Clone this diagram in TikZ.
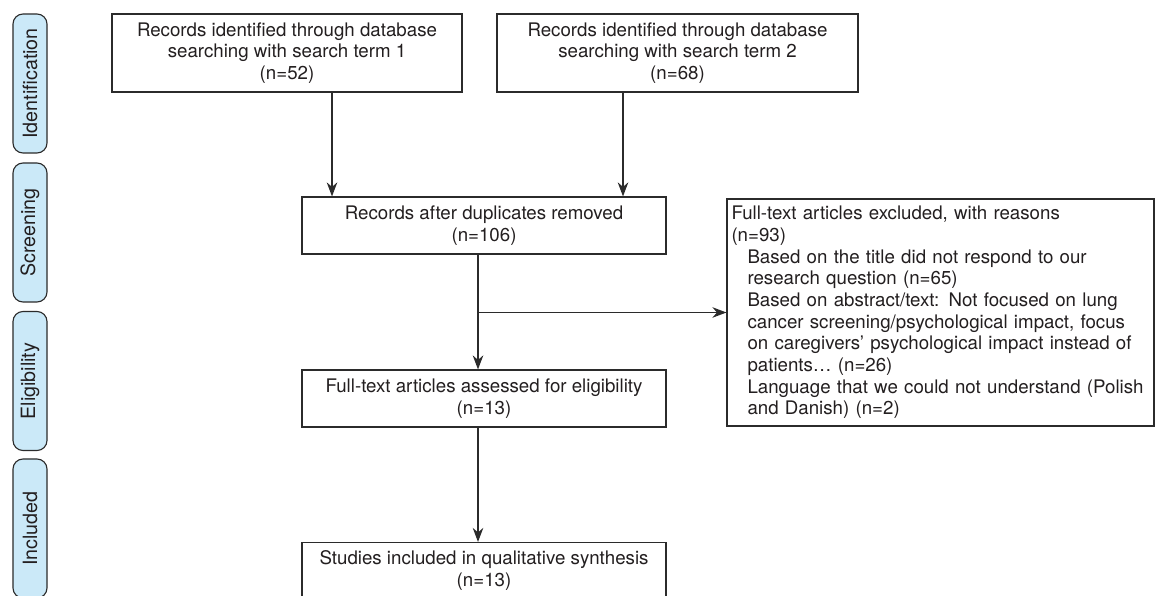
\documentclass[tikz,border=0pt]{standalone}
\usepackage{fontspec}
\setmainfont{TeX Gyre Heros}
\usepackage{xcolor}
\usepackage{tikz}
\usetikzlibrary{arrows.meta}
\definecolor{PFBlue}{HTML}{CBE9F8}
\definecolor{PFLine}{HTML}{2B2B2B}
\definecolor{PFText}{HTML}{231F20}
\tikzset{
  pfstage/.style={draw=PFLine,fill=PFBlue,rounded corners=0.25cm,line width=.8pt,
    minimum width=3.475cm,minimum height=0.85cm,inner sep=0pt,rotate=90,
    text=PFText,font=\fontsize{14}{16}\selectfont},
  pfbox/.style={draw=PFLine,line width=.8pt,align=center,inner sep=0pt,
    text=PFText,font=\fontsize{13.3}{15.4}\selectfont},
  pfarrow/.style={PFLine,line width=.9pt,-{Stealth[length=10pt,width=7.5pt]}}
}

\begin{document}
\begin{tikzpicture}[x=1cm,y=1cm]
\path[use as bounding box] (0,0) rectangle (28.875,14.90);
\fill[white] (0,0) rectangle (28.875,14.90);
% stages
\node[pfstage] (sident) at (0.75,12.8125) {Identification};
\node[pfstage] (sscreen) at (0.75,9.0875) {Screening};
\node[pfstage] (selig) at (0.75,5.375) {Eligibility};
\node[pfstage] (sincl) at (0.75,1.6875) {Included};
% boxes
\node[pfbox,minimum width=8.75cm,minimum height=1.95cm] (search1) at (7.175,13.575)
  {Records identified through database\\searching with search term 1\\(n=52)};
\node[pfbox,minimum width=9.025cm,minimum height=1.95cm] (search2) at (16.9375,13.575)
  {Records identified through database\\searching with search term 2\\(n=68)};
\node[pfbox,minimum width=9.10cm,minimum height=1.425cm] (dedup) at (12.10,9.2625)
  {Records after duplicates removed\\(n=106)};
\node[pfbox,minimum width=10.675cm,minimum height=5.675cm,text width=10.45cm,align=left,
  execute at begin node={\hyphenpenalty=10000\relax}] (excl) at (23.5125,7.0875)
  {Full-text articles excluded, with reasons\\
   (n=93)\\
   \hspace*{0.4cm}Based on the title did not respond to our\\
   \hspace*{0.4cm}research question (n=65)\\
   \hspace*{0.4cm}Based on abstract/text: Not focused on lung\\
   \hspace*{0.4cm}cancer screening/psychological impact, focus\\
   \hspace*{0.4cm}on caregivers’ psychological impact instead of\\
   \hspace*{0.4cm}patients… (n=26)\\
   \hspace*{0.4cm}Language that we could not understand (Polish\\
   \hspace*{0.4cm}and Danish) (n=2)};
\node[pfbox,minimum width=9.10cm,minimum height=1.425cm] (elig) at (12.10,4.9375)
  {Full-text articles assessed for eligibility\\(n=13)};
\node[pfbox,minimum width=9.10cm,minimum height=1.40cm] (incl) at (12.10,0.6375)
  {Studies included in qualitative synthesis\\(n=13)};
% connectors
\coordinate (from1) at ([xshift=1.125cm]search1.south);
\coordinate (from2) at ([xshift=-1.3625cm]search2.south);
\coordinate (trunk) at ([xshift=-0.15cm]dedup.south);
\coordinate (split) at (trunk |- excl.west);
\draw[pfarrow] (from1) -- (from1 |- dedup.north);
\draw[pfarrow] (from2) -- (from2 |- dedup.north);
\draw[pfarrow] (trunk) -- (trunk |- elig.north);
\draw[pfarrow] (split) -- (excl.west);
\draw[pfarrow] (elig.south -| trunk) -- (trunk |- incl.north);
\end{tikzpicture}
\end{document}
